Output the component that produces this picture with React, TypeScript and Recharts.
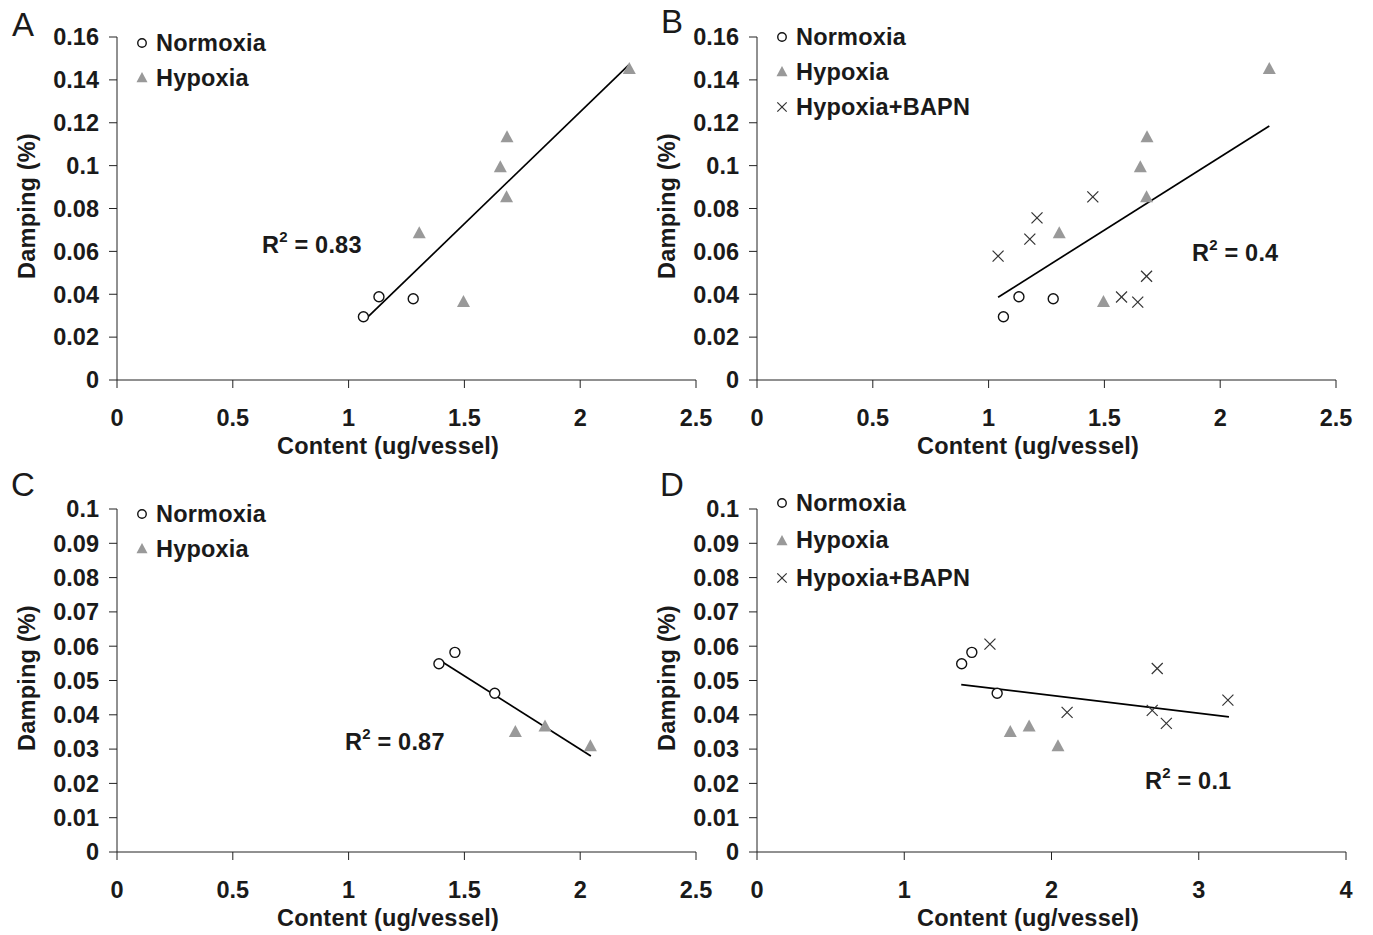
import { ScatterChart, Scatter, XAxis, YAxis, ReferenceLine, Legend } from "recharts";

// upper row (A, B): content 0-2.5, damping 0-0.16
const normoxiaTopX = [1.064, 1.131, 1.279];
const normoxiaTopY = [0.0295, 0.0388, 0.0379];
const hypoxiaTopX = [1.305, 1.496, 1.655, 1.684, 1.682, 2.212];
const hypoxiaTopY = [0.0684, 0.0364, 0.0992, 0.1132, 0.0852, 0.1451];
const bapnTopX = [1.041, 1.178, 1.209, 1.45, 1.574, 1.644, 1.682];
const bapnTopY = [0.0578, 0.0657, 0.0756, 0.0854, 0.0387, 0.0363, 0.0484];

// lower row (C, D): content 0-2.5 / 0-4, damping 0-0.1
const normoxiaBotX = [1.39, 1.459, 1.631];
const normoxiaBotY = [0.0549, 0.0582, 0.0463];
const hypoxiaBotX = [1.72, 1.848, 2.044];
const hypoxiaBotY = [0.035, 0.0366, 0.0308];
const bapnBotX = [1.582, 2.106, 2.684, 2.718, 2.78, 3.198];
const bapnBotY = [0.0606, 0.0407, 0.0413, 0.0535, 0.0375, 0.0443];

// trend line end points
const trendAX = [1.07, 2.21];
const trendAY = [0.028, 0.147];
const trendBX = [1.041, 2.212];
const trendBY = [0.0386, 0.1185];
const trendCX = [1.4, 2.046];
const trendCY = [0.0556, 0.028];
const trendDX = [1.387, 3.205];
const trendDY = [0.0488, 0.0394];

const ticksX25 = [0, 0.5, 1, 1.5, 2, 2.5];
const ticksX4 = [0, 1, 2, 3, 4];
const ticksY16 = [0, 0.02, 0.04, 0.06, 0.08, 0.1, 0.12, 0.14, 0.16];
const ticksY10 = [0, 0.01, 0.02, 0.03, 0.04, 0.05, 0.06, 0.07, 0.08, 0.09, 0.1];

const FONT = "'Liberation Sans', Arial, sans-serif";
const INK = "#1a1a1a";
const FS = 23.5;

type Pt = { x: number; y: number };
type Kind = "circle" | "triangle" | "cross";

const zip = (xs: number[], ys: number[]): Pt[] => xs.map((x, i) => ({ x, y: ys[i] }));

function Marker({ kind, cx, cy, s = 1 }: { kind: Kind; cx: number; cy: number; s?: number }) {
  if (kind === "circle")
    return <circle cx={cx} cy={cy} r={5 * s} fill="#fff" stroke="#111" strokeWidth={1.4} />;
  if (kind === "triangle")
    return (
      <polygon
        points={`${cx},${cy - 7 * s} ${cx + 6.5 * s},${cy + 5 * s} ${cx - 6.5 * s},${cy + 5 * s}`}
        fill="#999"
      />
    );
  const d = 5.5 * s;
  return (
    <g stroke="#333" strokeWidth={1.2}>
      <line x1={cx - d} y1={cy - d} x2={cx + d} y2={cy + d} />
      <line x1={cx - d} y1={cy + d} x2={cx + d} y2={cy - d} />
    </g>
  );
}

interface Series {
  name: string;
  kind: Kind;
  data: Pt[];
}

interface PanelProps {
  left: number;
  top: number;
  letter: string;
  letterPos: [number, number];
  xMax: number;
  xTicks: number[];
  yMax: number;
  yTicks: number[];
  series: Series[];
  trend: Pt[];
  r2: string;
  r2Pos: [number, number];
  legendTop: number;
  legendRow: number;
  plotRight: number;
}

const text: React.CSSProperties = {
  position: "absolute",
  fontFamily: FONT,
  fontWeight: "bold",
  fontSize: FS,
  color: INK,
  whiteSpace: "nowrap",
  letterSpacing: 0.2,
};

function Panel(p: PanelProps) {
  const W = 740;
  const H = 470;
  const tickStyle = { fontSize: FS, fontWeight: "bold", fill: INK, fontFamily: FONT };
  return (
    <div style={{ position: "absolute", left: p.left, top: p.top, width: W, height: H }}>
      <ScatterChart
        width={W}
        height={H}
        margin={{ top: 37, right: W - p.plotRight, bottom: 50, left: 57 }}
      >
        <XAxis
          type="number"
          dataKey="x"
          domain={[0, p.xMax]}
          ticks={p.xTicks}
          interval={0}
          height={40}
          tickSize={8}
          tickMargin={21}
          tick={tickStyle}
          stroke="#222"
          allowDataOverflow
        />
        <YAxis
          type="number"
          dataKey="y"
          domain={[0, p.yMax]}
          ticks={p.yTicks}
          interval={0}
          width={60}
          tickSize={8}
          tickMargin={10}
          tick={tickStyle}
          stroke="#222"
          allowDataOverflow
        />
        <ReferenceLine
          segment={p.trend}
          stroke="#000"
          strokeWidth={1.7}
          ifOverflow="visible"
        />
        {p.series.map((s) => (
          <Scatter
            key={s.name}
            name={s.name}
            data={s.data}
            isAnimationActive={false}
            shape={(sp: any) => <Marker kind={s.kind} cx={sp.cx} cy={sp.cy} />}
          />
        ))}
        <Legend
          layout="vertical"
          align="center"
          verticalAlign="middle"
          wrapperStyle={{ left: 133, top: p.legendTop - p.legendRow / 2, width: "auto" }}
          content={() => (
            <div>
              {p.series.map((s) => (
                <div
                  key={s.name}
                  style={{ display: "flex", alignItems: "center", height: p.legendRow }}
                >
                  <svg width={18} height={18} style={{ marginRight: 5 }}>
                    <Marker kind={s.kind} cx={9} cy={9} s={0.85} />
                  </svg>
                  <span style={{ ...text, position: "static" }}>{s.name}</span>
                </div>
              ))}
            </div>
          )}
        />
      </ScatterChart>
      <div
        style={{
          ...text,
          fontWeight: "normal",
          fontSize: 33,
          left: p.letterPos[0],
          top: p.letterPos[1],
          transform: "translate(-50%, -50%)",
        }}
      >
        {p.letter}
      </div>
      <div style={{ ...text, left: 27, top: 206, transform: "translate(-50%, -50%) rotate(-90deg)" }}>
        Damping (%)
      </div>
      <div style={{ ...text, left: 388, top: 446, transform: "translate(-50%, -50%)" }}>
        Content (ug/vessel)
      </div>
      <div style={{ ...text, left: p.r2Pos[0], top: p.r2Pos[1], transform: "translateY(-50%)" }}>
        R<sup style={{ fontSize: 15, lineHeight: 0, position: "relative", top: -2 }}>2</sup> = {p.r2}
      </div>
    </div>
  );
}

export default function App() {
  const nT = zip(normoxiaTopX, normoxiaTopY);
  const hT = zip(hypoxiaTopX, hypoxiaTopY);
  const bT = zip(bapnTopX, bapnTopY);
  const nB = zip(normoxiaBotX, normoxiaBotY);
  const hB = zip(hypoxiaBotX, hypoxiaBotY);
  const bB = zip(bapnBotX, bapnBotY);
  return (
    <div
      style={{
        position: "absolute",
        left: 0,
        top: 0,
        width: 1373,
        height: 935,
        background: "#fff",
        overflow: "hidden",
      }}
    >
      <Panel
        left={0}
        top={0}
        letter="A"
        letterPos={[23, 25]}
        xMax={2.5}
        xTicks={ticksX25}
        yMax={0.16}
        yTicks={ticksY16}
        series={[
          { name: "Normoxia", kind: "circle", data: nT },
          { name: "Hypoxia", kind: "triangle", data: hT },
        ]}
        trend={zip(trendAX, trendAY)}
        r2="0.83"
        r2Pos={[262, 245]}
        legendTop={43}
        legendRow={35}
        plotRight={696}
      />
      <Panel
        left={640}
        top={0}
        letter="B"
        letterPos={[32, 22]}
        xMax={2.5}
        xTicks={ticksX25}
        yMax={0.16}
        yTicks={ticksY16}
        series={[
          { name: "Normoxia", kind: "circle", data: nT },
          { name: "Hypoxia", kind: "triangle", data: hT },
          { name: "Hypoxia+BAPN", kind: "cross", data: bT },
        ]}
        trend={zip(trendBX, trendBY)}
        r2="0.4"
        r2Pos={[552, 253]}
        legendTop={37}
        legendRow={35}
        plotRight={696}
      />
      <Panel
        left={0}
        top={472}
        letter="C"
        letterPos={[23, 13]}
        xMax={2.5}
        xTicks={ticksX25}
        yMax={0.1}
        yTicks={ticksY10}
        series={[
          { name: "Normoxia", kind: "circle", data: nB },
          { name: "Hypoxia", kind: "triangle", data: hB },
        ]}
        trend={zip(trendCX, trendCY)}
        r2="0.87"
        r2Pos={[345, 270]}
        legendTop={42}
        legendRow={35}
        plotRight={696}
      />
      <Panel
        left={640}
        top={472}
        letter="D"
        letterPos={[32, 13]}
        xMax={4}
        xTicks={ticksX4}
        yMax={0.1}
        yTicks={ticksY10}
        series={[
          { name: "Normoxia", kind: "circle", data: nB },
          { name: "Hypoxia", kind: "triangle", data: hB },
          { name: "Hypoxia+BAPN", kind: "cross", data: bB },
        ]}
        trend={zip(trendDX, trendDY)}
        r2="0.1"
        r2Pos={[505, 309]}
        legendTop={31}
        legendRow={37.5}
        plotRight={706}
      />
    </div>
  );
}
